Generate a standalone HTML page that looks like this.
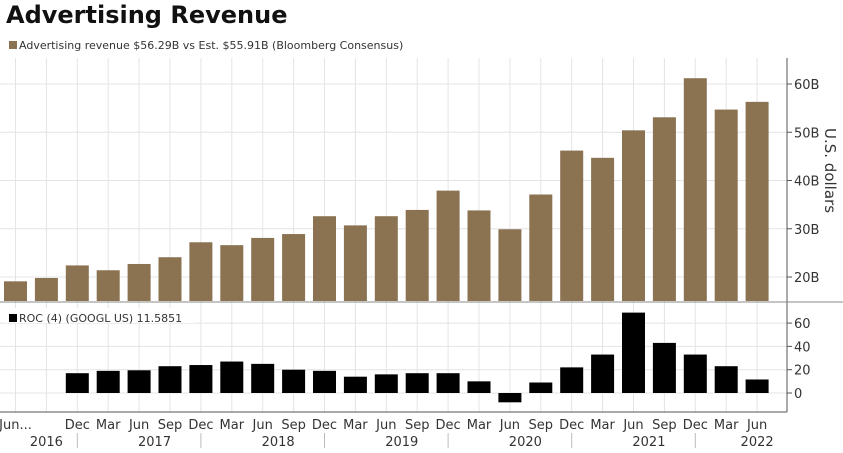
<!DOCTYPE html>
<html><head><meta charset="utf-8"><style>
body{margin:0;background:#fff;width:843px;height:448px;overflow:hidden;font-family:"Liberation Sans","DejaVu Sans",sans-serif}
text{font-family:"DejaVu Sans","Liberation Sans",sans-serif}
</style></head><body>
<svg id="c" width="843" height="448">
<text x="6" y="23" font-size="24" font-weight="bold" fill="#111" font-family="Liberation Sans">Advertising Revenue</text>
<g id="grid"></g><g id="bars"></g><g id="axes"></g>
<rect x="4" y="39" width="420" height="15" fill="#fff"/>
<rect x="9" y="41" width="8" height="8" fill="#8b7352"/>
<text x="19" y="49" font-size="11" fill="#333">Advertising revenue $56.29B vs Est. $55.91B (Bloomberg Consensus)</text>
<rect x="4" y="308" width="190" height="15" fill="#fff"/>
<rect x="9" y="314" width="8" height="8" fill="#000"/>
<text x="19" y="322" font-size="11" fill="#333">ROC (4) (GOOGL US) 11.5851</text>
<text transform="translate(825,128) rotate(90)" font-size="15" fill="#333">U.S. dollars</text>
</svg>
<script>
const quarters=["Jun","Sep","Dec","Mar","Jun","Sep","Dec","Mar","Jun","Sep","Dec","Mar","Jun","Sep","Dec","Mar","Jun","Sep","Dec","Mar","Jun","Sep","Dec","Mar","Jun"];
const revenue=[19.1,19.8,22.4,21.4,22.7,24.1,27.2,26.6,28.1,28.9,32.6,30.7,32.6,33.9,37.9,33.8,29.9,37.1,46.2,44.7,50.4,53.1,61.2,54.7,56.3];
const roc=[null,null,17,19,19.5,23,24,27,25,20,19,14,16,17,17,10,-8,9,22,33,69,43,33,23,11.6];
const revTicks=[20,30,40,50,60];
const rocTicks=[0,20,40,60];
const years=["2016","2017","2018","2019","2020","2021","2022"];
const yearPos=[1,4.5,8.5,12.5,16.5,20.5,24];
const yearSep=[2,6,10,14,18,22];
const NS="http://www.w3.org/2000/svg";
const x=i=>15.5+i*30.9;
const yTop=v=>373.5-v*4.825;
const yBot=v=>393-v*1.165;
const BW=23;
function mk(p,tag,at){const e=document.createElementNS(NS,tag);for(const k in at)e.setAttribute(k,at[k]);document.getElementById(p).appendChild(e);return e;}
for(let i=0;i<quarters.length;i++){
 const g=mk('grid','line',{x1:x(i),x2:x(i),y1:58,y2:412,stroke:'#e4e4e4'});
 
 
}
revTicks.forEach(t=>{
 const g=mk('grid','line',{x1:0,x2:787,y1:yTop(t),y2:yTop(t),stroke:'#e4e4e4'});
 
 
 const tk=mk('axes','line',{x1:787,x2:792,y1:yTop(t),y2:yTop(t),stroke:'#555'});
 
 
 const tx=mk('axes','text',{x:794,y:yTop(t)+5,'font-size':13,fill:'#333'});tx.textContent=t+'B';
 
 
});
rocTicks.forEach(t=>{
 const g=mk('grid','line',{x1:0,x2:787,y1:yBot(t),y2:yBot(t),stroke:'#e4e4e4'});
 
 
 const tk=mk('axes','line',{x1:787,x2:792,y1:yBot(t),y2:yBot(t),stroke:'#555'});
 
 
 const tx=mk('axes','text',{x:794,y:yBot(t)+5,'font-size':13,fill:'#333'});tx.textContent=t;
 
 
});
revenue.forEach((v,i)=>{
 const r=mk('bars','rect',{x:x(i)-BW/2,y:yTop(v),width:BW,height:301-yTop(v),fill:'#8b7352'});
 
 
});
roc.forEach((v,i)=>{
 if(v===null)return;
 const y0=yBot(0),y1=yBot(v);
 const r=mk('bars','rect',{x:x(i)-BW/2,y:Math.min(y0,y1),width:BW,height:Math.abs(y1-y0),fill:'#000'});
 
 
});
[['axes','line',{x1:787,x2:787,y1:58,y2:412,stroke:'#555'}],['axes','line',{x1:0,x2:843,y1:302,y2:302,stroke:'#888'}],['axes','line',{x1:0,x2:787,y1:412,y2:412,stroke:'#555'}]].forEach(a=>{
 const l=mk(...a);
 
 
});
quarters.forEach((q,i)=>{
 if(i===1)return;
 const t=mk('axes','text',{x:x(i),y:429,'font-size':13,fill:'#333','text-anchor':'middle'});t.textContent=i===0?'Jun...':q;
 
 
});
years.forEach((y,i)=>{
 const t=mk('axes','text',{x:x(yearPos[i]),y:446,'font-size':13,fill:'#333','text-anchor':'middle'});t.textContent=y;
 
 
});
yearSep.forEach(s=>{
 const l=mk('axes','line',{x1:x(s),x2:x(s),y1:433,y2:448,stroke:'#bbb'});
 
 
});
</script>
</body></html>
